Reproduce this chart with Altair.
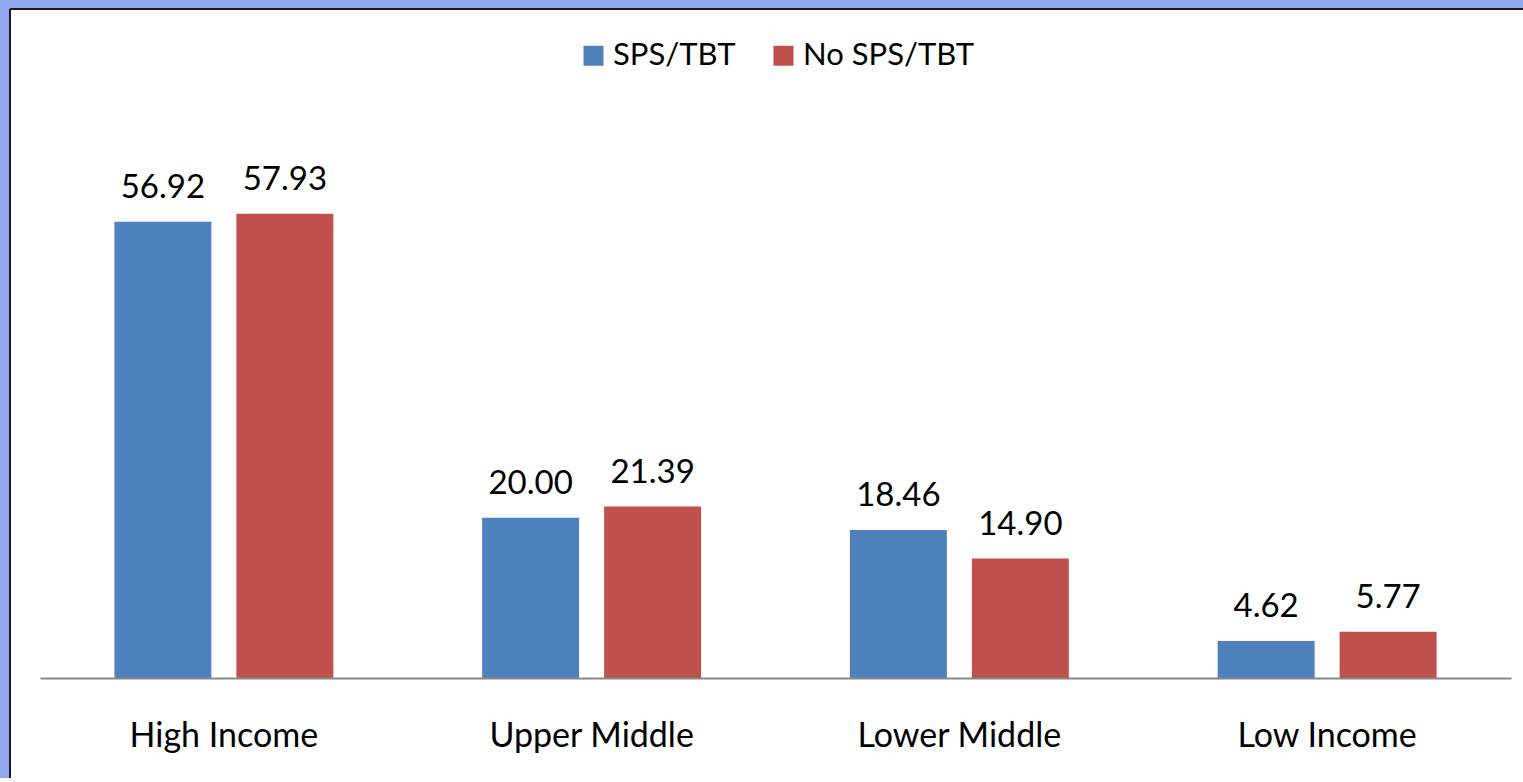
import altair as alt
import pandas as pd

# Income groups and the two series plotted for each
groups = ["High Income", "Upper Middle", "Lower Middle", "Low Income"]
series = ["SPS/TBT", "No SPS/TBT"]
sps_tbt = [56.92, 20.00, 18.46, 4.62]
no_sps_tbt = [57.93, 21.39, 14.90, 5.77]
colors = ["#4f81bd", "#c0504d"]

rows = []
for g, a, b in zip(groups, sps_tbt, no_sps_tbt):
    rows.append({"group": g, "series": series[0], "value": a})
    rows.append({"group": g, "series": series[1], "value": b})
df = pd.DataFrame(rows)

FONT = "Lato"
PAD_L, PAD_T = 40, 117
W, H = 1471, 561
BACKDROP = "#90a8ee"

x = alt.X("group:N", sort=groups, title=None,
          scale=alt.Scale(paddingInner=0, paddingOuter=0),
          axis=alt.Axis(labelAngle=0, labelFontSize=34, labelFont=FONT,
                        labelColor="#000000", labelPadding=58,
                        labelLimit=400,
                        labelBaseline="middle", ticks=False, zindex=2,
                        domainColor="#888888", domainWidth=2, grid=False))
xo = alt.XOffset("series:N", sort=series,
                 scale=alt.Scale(domain=series, paddingInner=0.205,
                                 paddingOuter=0.61))
y = alt.Y("value:Q", scale=alt.Scale(domain=[0, 70]), axis=None)

one = pd.DataFrame({"k": [0]})

# Blue slide backdrop showing along the top and left edges of the
# white chart panel, with a dark rim where they meet
strip_top = alt.Chart(one).mark_rect(fill=BACKDROP).encode(
    x=alt.value(-PAD_L - 5), x2=alt.value(1600 - PAD_L),
    y=alt.value(-PAD_T - 5), y2=alt.value(8 - PAD_T),
)
strip_left = alt.Chart(one).mark_rect(fill=BACKDROP).encode(
    x=alt.value(-PAD_L - 5), x2=alt.value(10 - PAD_L),
    y=alt.value(-PAD_T - 5), y2=alt.value(900 - PAD_T),
)
edge_top = alt.Chart(one).mark_rule(color="#1a1a1a", strokeWidth=2).encode(
    x=alt.value(10 - PAD_L), x2=alt.value(1600 - PAD_L),
    y=alt.value(9 - PAD_T),
)
edge_left = alt.Chart(one).mark_rule(color="#1a1a1a", strokeWidth=2).encode(
    x=alt.value(10 - PAD_L),
    y=alt.value(9 - PAD_T), y2=alt.value(900 - PAD_T),
)

bars = alt.Chart(df).mark_bar().encode(
    x=x, xOffset=xo, y=y,
    color=alt.Color("series:N", sort=series,
                    scale=alt.Scale(domain=series, range=colors),
                    legend=alt.Legend(title=None, orient="none",
                                      direction="horizontal",
                                      legendX=538, legendY=-77,
                                      symbolType="square", symbolSize=400,
                                      symbolStrokeWidth=0, labelLimit=400,
                                      labelFontSize=31, labelFont=FONT,
                                      labelColor="#000000", labelOffset=4,
                                      columnPadding=32)),
)

labels = alt.Chart(df).mark_text(
    fontSize=33, font=FONT, color="#000000", baseline="alphabetic", dy=-24
).encode(
    x=x, xOffset=xo, y=y,
    text=alt.Text("value:Q", format=".2f"),
)

chart = alt.layer(strip_top, strip_left, edge_top, edge_left,
                  bars, labels).properties(
    width=W, height=H,
    background="#ffffff",
    padding={"left": PAD_L, "top": PAD_T, "right": 12, "bottom": 100},
    autosize=alt.AutoSizeParams(type="none"),
).configure_view(stroke=None)

chart.save("out.html", embed_options={"renderer": "svg", "actions": False})
